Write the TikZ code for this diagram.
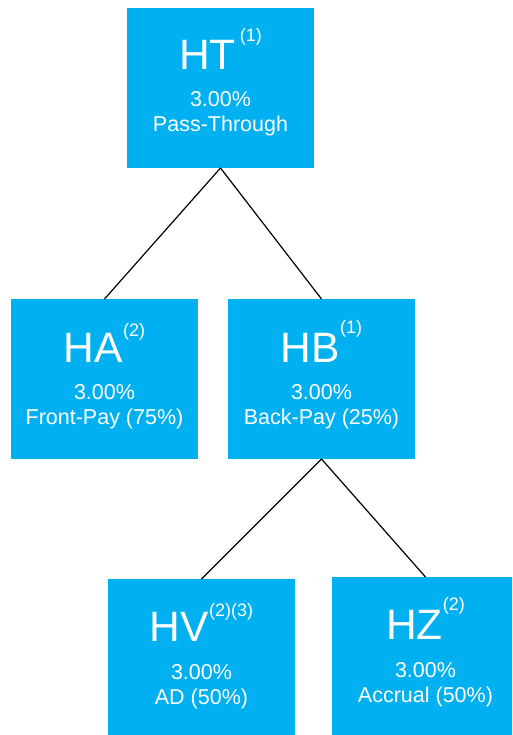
\documentclass[tikz,border=0pt]{standalone}
\usepackage{fontspec}
\setmainfont{Liberation Sans}
\usetikzlibrary{calc}
\definecolor{boxblue}{HTML}{00B0F0}
\newcommand\supmark[2][28pt]{\raisebox{#1}{\fontsize{18}{18}\selectfont #2}}
\begin{document}
\begin{tikzpicture}[x=1pt,y=1pt,
  tranche/.style={fill=boxblue, draw=none, minimum width=187pt, minimum height=160pt, inner sep=0pt, outer sep=0pt, anchor=north west},
  ttl/.style={text=white, font=\fontsize{42.5}{42}\selectfont, anchor=base, inner sep=0pt},
  sub/.style={text=white, font=\fontsize{21.5}{22}\selectfont, anchor=base, inner sep=0pt},
  link/.style={draw=black, line width=1.2pt}]
\useasboundingbox (0,0) rectangle (512,-735);
\clip (0,0) rectangle (512,-735);
% boxes
\node[tranche] (HT) at (127,-8) {};
\node[tranche] (HA) at (11,-299) {};
\node[tranche] (HB) at (228,-299) {};
\node[tranche] (HV) at (108,-579) {};
\node[tranche] (HZ) at (332,-577) {};
% connectors
\draw[link] (HT.south) -- (HA.north);
\draw[link] (HT.south) -- (HB.north);
\draw[link] (HB.south) -- (HV.north);
\draw[link] (HB.south) -- (HZ.north);
% texts
\node[ttl] (HTt) at ($(HT.north)+(0,-62)$) {HT\hspace{4pt}\supmark[28pt]{(1)}};
\node[sub] (HTr) at ($(HT.north)+(0,-99)$) {3.00\%};
\node[sub] (HTd) at ($(HT.north)+(0,-124)$) {Pass-Through};
\node[ttl] (HAt) at ($(HA.north)+(0,-63)$) {HA\supmark[26pt]{(2)}};
\node[sub] (HAr) at ($(HA.north)+(0,-100)$) {3.00\%};
\node[sub] (HAd) at ($(HA.north)+(0,-125)$) {Front-Pay (75\%)};
\node[ttl] (HBt) at ($(HB.north)+(0,-63)$) {HB\supmark[29pt]{(1)}};
\node[sub] (HBr) at ($(HB.north)+(0,-100)$) {3.00\%};
\node[sub] (HBd) at ($(HB.north)+(0,-125)$) {Back-Pay (25\%)};
\node[ttl] (HVt) at ($(HV.north)+(0,-62)$) {HV\supmark[25pt]{(2)(3)}};
\node[sub] (HVr) at ($(HV.north)+(0,-100)$) {3.00\%};
\node[sub] (HVd) at ($(HV.north)+(0,-125)$) {AD (50\%)};
\node[ttl] (HZt) at ($(HZ.north)+(0,-62)$) {HZ\supmark[29pt]{(2)}};
\node[sub] (HZr) at ($(HZ.north)+(0,-100)$) {3.00\%};
\node[sub] (HZd) at ($(HZ.north)+(0,-125)$) {Accrual (50\%)};
\end{tikzpicture}
\end{document}
